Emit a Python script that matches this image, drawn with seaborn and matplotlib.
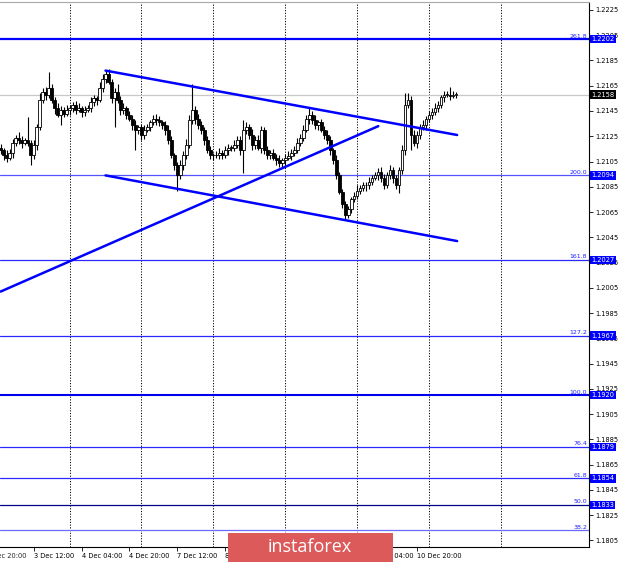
import numpy as np
import pandas as pd
import matplotlib
matplotlib.use("Agg")
import matplotlib.pyplot as plt
from matplotlib.patches import Rectangle
import seaborn as sns

# hourly closes, EUR/USD 3 Dec 01:00 .. 11 Dec 09:00
closes = [
    1.2114, 1.2110, 1.2108, 1.2112, 1.2120, 1.2124, 1.2122, 1.2120, 1.2122, 1.2120,
    1.2110, 1.2118, 1.2132, 1.2154, 1.2160, 1.2158, 1.2163, 1.2154, 1.2147, 1.2142,
    1.2146, 1.2143, 1.2146, 1.2147, 1.2150, 1.2146, 1.2147, 1.2144, 1.2146, 1.2147,
    1.2152, 1.2155, 1.2154, 1.2163, 1.2170, 1.2174, 1.2168, 1.2155, 1.2160, 1.2154,
    1.2146, 1.2147, 1.2142, 1.2139, 1.2134, 1.2130, 1.2132, 1.2126, 1.2130, 1.2132,
    1.2136, 1.2139, 1.2138, 1.2136, 1.2134, 1.2130, 1.2122, 1.2110, 1.2102, 1.2094,
    1.2102, 1.2110, 1.2118, 1.2138, 1.2146, 1.2139, 1.2134, 1.2130, 1.2122, 1.2114,
    1.2110, 1.2110, 1.2110, 1.2112, 1.2110, 1.2114, 1.2116, 1.2116, 1.2118, 1.2122,
    1.2114, 1.2130, 1.2132, 1.2126, 1.2118, 1.2122, 1.2116, 1.2130, 1.2114, 1.2110,
    1.2112, 1.2108, 1.2106, 1.2104, 1.2106, 1.2108, 1.2109, 1.2112, 1.2114, 1.2120,
    1.2124, 1.2130, 1.2139, 1.2142, 1.2138, 1.2134, 1.2136, 1.2130, 1.2126, 1.2122,
    1.2114, 1.2106, 1.2094, 1.2081, 1.2071, 1.2063, 1.2067, 1.2075, 1.2078, 1.2082,
    1.2084, 1.2086, 1.2086, 1.2089, 1.2092, 1.2094, 1.2097, 1.2092, 1.2086, 1.2094,
    1.2098, 1.2092, 1.2086, 1.2098, 1.2114, 1.2150, 1.2154, 1.2126, 1.2120, 1.2126,
    1.2132, 1.2134, 1.2139, 1.2142, 1.2144, 1.2147, 1.2150, 1.2156, 1.2158, 1.2158,
    1.2157, 1.2158, 1.2158,
]
first_open = 1.2116

# wick lengths in pips above / below the body
upper_wick = [
    3, 2, 4, 3, 3, 2, 4, 3, 2, 18,
    2, 4, 3, 5, 3, 4, 13, 3, 2, 4,
    3, 2, 4, 3, 2, 3, 4, 2, 3, 3,
    4, 3, 2, 5, 4, 3, 4, 2, 3, 6,
    3, 4, 2, 3, 3, 4, 2, 3, 4, 3,
    2, 3, 4, 3, 2, 3, 4, 3, 2, 3,
    4, 3, 5, 4, 20, 3, 4, 3, 2, 3,
    3, 2, 3, 4, 2, 3, 3, 2, 4, 3,
    3, 8, 4, 3, 5, 3, 4, 3, 2, 3,
    2, 3, 3, 4, 2, 3, 4, 3, 3, 4,
    3, 4, 3, 5, 3, 4, 2, 3, 3, 4,
    3, 2, 4, 3, 2, 3, 3, 2, 3, 4,
    2, 3, 3, 4, 2, 3, 3, 4, 3, 3,
    4, 3, 2, 3, 4, 9, 5, 3, 4, 3,
    3, 4, 2, 3, 3, 4, 3, 2, 3, 3,
    6, 3, 2,
]
lower_wick = [
    3, 4, 3, 2, 4, 3, 3, 4, 2, 3,
    8, 3, 4, 2, 3, 4, 3, 3, 4, 2,
    8, 3, 2, 4, 3, 3, 2, 4, 3, 2,
    3, 3, 4, 2, 3, 3, 2, 4, 23, 3,
    4, 3, 3, 2, 4, 16, 3, 4, 3, 2,
    3, 2, 4, 3, 3, 4, 3, 2, 4, 12,
    3, 4, 3, 2, 3, 4, 3, 3, 4, 2,
    3, 4, 2, 3, 3, 2, 4, 3, 3, 2,
    4, 18, 3, 3, 4, 3, 2, 4, 3, 3,
    3, 2, 4, 3, 3, 4, 2, 3, 3, 2,
    3, 3, 2, 4, 3, 3, 4, 2, 3, 3,
    4, 3, 3, 2, 3, 4, 3, 3, 2, 3,
    3, 2, 4, 3, 3, 2, 4, 3, 3, 2,
    3, 4, 3, 6, 3, 4, 3, 12, 3, 4,
    3, 2, 4, 3, 3, 2, 3, 3, 4, 2,
    3, 2, 3,
]

tick_bars = [11, 27, 43, 59, 75, 91, 107, 123, 139]
tick_labels = ["3 Dec 12:00", "4 Dec 04:00", "4 Dec 20:00", "7 Dec 12:00",
               "8 Dec 04:00", "8 Dec 20:00", "9 Dec 12:00", "10 Dec 04:00",
               "10 Dec 20:00"]
cut_bar = -5
cut_label = "2 Dec 20:00"
day_bars = [23, 47, 71, 95, 119, 143, 167]

price_ticks = [1.1805, 1.1825, 1.1845, 1.1865, 1.1885, 1.1905, 1.1925, 1.1945,
               1.1965, 1.1985, 1.2005, 1.2025, 1.2045, 1.2065, 1.2085, 1.2105,
               1.2125, 1.2145, 1.2165, 1.2185, 1.2205, 1.2225]

fib_names = ["261.8", "200.0", "161.8", "127.2", "100.0", "76.4", "61.8", "50.0", "38.2"]
fib_prices = [1.2202, 1.2094, 1.2027, 1.1967, 1.1920, 1.1879, 1.1854, 1.1833, 1.1813]
fib_boxed = [True, True, True, True, True, True, True, True, False]
fib_widths = [1.6, 0.9, 0.9, 0.9, 1.5, 0.9, 0.9, 0.9, 0.9]
fib_colors = ["#0000ff", "#5555ff", "#2a2aff", "#2a2aff", "#0000ee",
              "#2a2aff", "#2a2aff", "#000088", "#6a6aff"]
last_price = 1.2158

# trend lines: bar index / price of the two anchor points
upper_x = [35, 152.3]
upper_y = [1.2177, 1.2126]
lower_x = [35, 152.3]
lower_y = [1.2094, 1.2042]
rising_x = [0, 126]
rising_y = [1.2002, 1.2133]

sns.set_style("white")
plt.rcParams["font.family"] = ["DejaVu Sans"]

bars = np.arange(len(closes))
opens = [first_open] + closes[:-1]
df = pd.DataFrame({"bar": bars, "open": opens, "close": closes})
df["high"] = df[["open", "close"]].max(axis=1) + np.array(upper_wick) * 0.0001
df["low"] = df[["open", "close"]].min(axis=1) - np.array(lower_wick) * 0.0001
df["up"] = df["close"] >= df["open"]

fig = plt.figure(figsize=(6.2, 5.63), dpi=100)
ax = fig.add_axes([0, 0.0284, 0.95, 0.968])

for b in day_bars:
    ax.axvline(b, color="black", lw=0.7, ls=(0, (1.2, 1.6)), zorder=1)

ax.axhline(last_price, color="#c8c8c8", lw=0.9, zorder=1)

for p, w, c in zip(fib_prices, fib_widths, fib_colors):
    ax.axhline(p, color=c, lw=w, zorder=2)

# candles
ax.vlines(df["bar"], df["low"], df["high"], color="black", lw=0.8, zorder=3)
body = (df["close"] - df["open"]).abs().clip(lower=0.00003)
bottom = df[["open", "close"]].min(axis=1)
ax.bar(df["bar"], body, bottom=bottom, width=0.8,
       color=np.where(df["up"], "white", "black"),
       edgecolor="black", linewidth=0.6, zorder=4)

for xs, ys in [(upper_x, upper_y), (lower_x, lower_y), (rising_x, rising_y)]:
    sns.lineplot(x=xs, y=ys, color="#0000ff", lw=1.8, ax=ax, zorder=5,
                 legend=False)

ax.set_xlim(-0.2, 196.3)
ax.set_ylim(1.17997, 1.22313)

ax.spines["left"].set_visible(False)
ax.spines["top"].set_color("#a8a8a8")
ax.spines["top"].set_linewidth(0.8)
ax.spines["right"].set_color("black")
ax.spines["right"].set_linewidth(0.8)
ax.spines["bottom"].set_color("black")
ax.spines["bottom"].set_linewidth(0.8)

ax.yaxis.tick_right()
ax.set_yticks(price_ticks, [f"{p:.4f}" for p in price_ticks])
ax.set_xticks(tick_bars, tick_labels)
ax.tick_params(axis="both", labelsize=4.8, length=3, width=0.6, pad=1.5,
               colors="black", direction="out")
ax.tick_params(axis="y", right=True, left=False)
ax.tick_params(axis="x", bottom=True)
plt.setp(ax.get_xticklabels(), ha="left")

ax.annotate(cut_label, xy=(cut_bar, 0), xycoords=("data", "axes fraction"),
            xytext=(0, -4.5), textcoords="offset points", ha="left", va="top",
            fontsize=4.8, annotation_clip=False)

for name, p, boxed in zip(fib_names, fib_prices, fib_boxed):
    ax.text(195.6, p + 0.00004, name, ha="right", va="bottom", fontsize=4.5,
            color="#2020ff", zorder=6)
    if boxed:
        ax.annotate(f"{p:.4f}", xy=(1, p), xycoords=("axes fraction", "data"),
                    xytext=(1.6, 0), textcoords="offset points", ha="left",
                    va="center", fontsize=4.8, color="white",
                    bbox=dict(boxstyle="square,pad=0.2", fc="#0000ff", ec="none"),
                    annotation_clip=False, zorder=7)

ax.annotate(f"{last_price:.4f}", xy=(1, last_price),
            xycoords=("axes fraction", "data"), xytext=(1.6, 0),
            textcoords="offset points", ha="left", va="center", fontsize=4.8,
            color="white", bbox=dict(boxstyle="square,pad=0.2", fc="black", ec="none"),
            annotation_clip=False, zorder=7)

# watermark
fig.add_artist(Rectangle((0.3677, 0.0018), 0.2661, 0.0515, transform=fig.transFigure,
                         fc="#dc5a5a", ec="none", zorder=10))
fig.text(0.500, 0.028, "instaforex", color="white", fontsize=13,
         family=["Open Sans", "DejaVu Sans"], ha="center", va="center", zorder=11)

fig.savefig("out.png", dpi=100)
